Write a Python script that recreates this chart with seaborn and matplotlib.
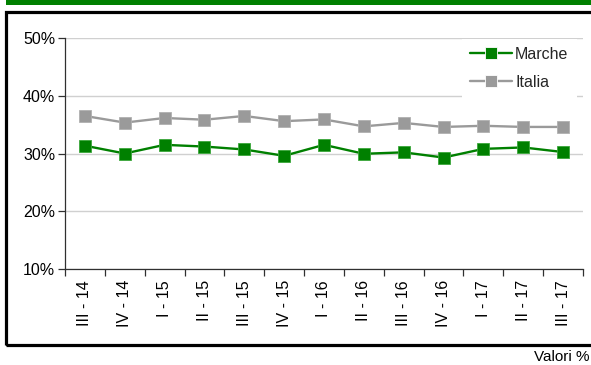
import matplotlib
matplotlib.use("Agg")
import matplotlib.pyplot as plt
from matplotlib.patches import Rectangle
from matplotlib.ticker import FixedLocator, FuncFormatter
import seaborn as sns
import pandas as pd

# Quarterly rates (%) by territory
quarters = ["III - 14", "IV - 14", "I - 15", "II - 15", "III - 15", "IV - 15",
            "I - 16", "II - 16", "III - 16", "IV - 16", "I - 17", "II - 17", "III - 17"]
marche = [31.35, 30.0, 31.5, 31.2, 30.7, 29.6, 31.5, 29.95, 30.2, 29.3, 30.8, 31.05, 30.25]
italia = [36.5, 35.35, 36.15, 35.85, 36.5, 35.6, 35.9, 34.7, 35.3, 34.6, 34.8, 34.6, 34.6]
series_names = ["Marche", "Italia"]
y_ticks = [10, 20, 30, 40, 50]

df = pd.DataFrame({
    "quarter": quarters * 2,
    "value": marche + italia,
    "area": [series_names[0]] * len(quarters) + [series_names[1]] * len(quarters),
})

sns.set_theme(style="white")
plt.rcParams["font.family"] = ["Liberation Sans", "DejaVu Sans"]
FS = 11.5

W, H = 591, 365
fig = plt.figure(figsize=(W / 100, H / 100), dpi=100)

# Top green band and black outer frame
fig.patches.append(Rectangle((6 / W, 1 - 5 / H), 1, 5 / H, transform=fig.transFigure,
                             facecolor="#008000", edgecolor="none", zorder=0))
fig.patches.append(Rectangle((5.5 / W, (H - 344.5) / H), 1, (344.5 - 11.5) / H,
                             transform=fig.transFigure, facecolor="none",
                             edgecolor="black", linewidth=2.3, zorder=0))

ax = fig.add_axes([65 / W, 1 - 269 / H, (583 - 65) / W, (269 - 38) / H])

palette = {"Marche": "#008000", "Italia": "#9a9a9a"}
sns.lineplot(data=df, x="quarter", y="value", hue="area", hue_order=series_names,
             palette=palette, marker="s", markersize=8.5, linewidth=1.7,
             markeredgewidth=0.6, ax=ax, sort=False)
for line, ec in zip(ax.lines, ["#3aa63a", "#b0b0b0"]):
    line.set_markeredgecolor(ec)

ax.set_xlim(-0.5, len(quarters) - 0.5)
ax.set_ylim(10, 50)
ax.set_yticks(y_ticks)
ax.yaxis.set_major_formatter(FuncFormatter(lambda v, _: f"{v:.0f}%"))
ax.grid(axis="y", color="#d0d0d0", linewidth=1.0)
ax.set_axisbelow(True)

ax.set_xticks(range(len(quarters)))
ax.set_xticklabels(quarters, rotation=90, fontsize=FS, color="black")
ax.xaxis.set_minor_locator(FixedLocator([i - 0.5 for i in range(len(quarters) + 1)]))
ax.tick_params(axis="x", which="major", length=0, pad=8)
ax.tick_params(axis="x", which="minor", length=5, width=0.9, color="#303030",
               direction="out", bottom=True)
ax.tick_params(axis="y", length=5, width=0.9, color="#303030", direction="out",
               left=True, labelsize=FS, labelcolor="black", pad=2)

for side in ["top", "right"]:
    ax.spines[side].set_visible(False)
for side in ["left", "bottom"]:
    ax.spines[side].set_color("#303030")
    ax.spines[side].set_linewidth(0.9)

ax.set_xlabel("")
ax.set_ylabel("")

leg = ax.legend(loc="upper right", bbox_to_anchor=(1.003, 1.031), frameon=True,
                fancybox=False, facecolor="white", edgecolor="none", framealpha=1,
                fontsize=FS, handlelength=2.6, labelspacing=0.8, borderpad=0.5,
                handletextpad=0.2)

fig.text(590 / W, 1 - 357 / H, "Valori %", ha="right", va="center", fontsize=11,
         color="black")

fig.savefig("out.png", dpi=100)
